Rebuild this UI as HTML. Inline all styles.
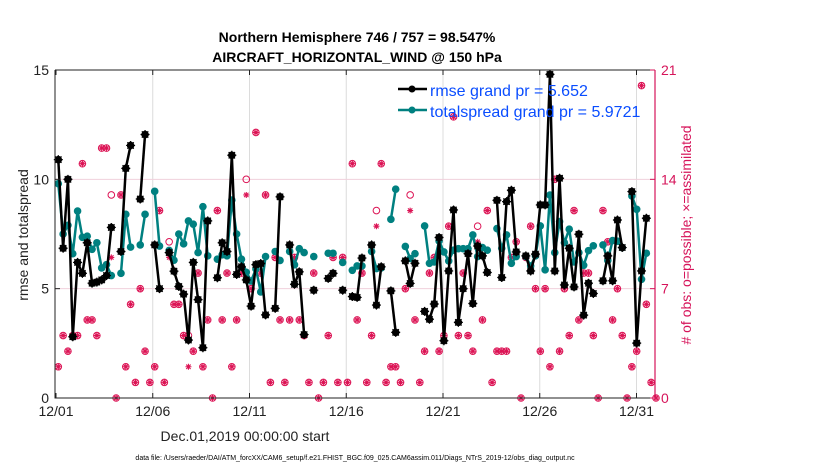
<!DOCTYPE html>
<html><head><meta charset="utf-8">
<style>
body{margin:0;background:#fff;width:830px;height:470px;overflow:hidden}
svg{display:block;font-family:"Liberation Sans",Arial,sans-serif}
</style></head>
<body>
<svg id="chart" width="830" height="470" viewBox="0 0 830 470">
<text x="357" y="42" text-anchor="middle" font-size="14" font-weight="bold">Northern Hemisphere 746 / 757 = 98.547%</text>
<text x="357" y="62" text-anchor="middle" font-size="14" font-weight="bold">AIRCRAFT_HORIZONTAL_WIND @ 150 hPa</text>
<g id="grid"></g>
<g id="obs"></g>
<g id="spread"></g>
<g id="rmse"></g>
<g id="axes"></g>
<g>
 <g>
  <line x1="398" y1="89" x2="427" y2="89" stroke="#000" stroke-width="2.5"/>
  <circle cx="412" cy="89" r="3.5" fill="#000"/>
  <text x="430" y="96" font-size="16" fill="#0a4dff">rmse grand pr = 5.652</text>
 </g>
 <g>
  <line x1="398" y1="110" x2="427" y2="110" stroke="#008080" stroke-width="2.5"/>
  <circle cx="412" cy="110" r="3.5" fill="#008080"/>
  <text x="430" y="117" font-size="16" fill="#0a4dff">totalspread grand pr = 5.9721</text>
 </g>
</g>
<text x="245" y="441" text-anchor="middle" font-size="14" fill="#222">Dec.01,2019 00:00:00 start</text>
<text transform="translate(28,235) rotate(-90)" text-anchor="middle" font-size="14" fill="#222">rmse and totalspread</text>
<text transform="translate(691,235) rotate(-90)" text-anchor="middle" font-size="14" fill="#d6145a"># of obs: o=possible; ×=assimilated</text>
<text x="355" y="460" text-anchor="middle" font-size="7" fill="#000">data file: /Users/raeder/DAI/ATM_forcXX/CAM6_setup/f.e21.FHIST_BGC.f09_025.CAM6assim.011/Diags_NTrS_2019-12/obs_diag_output.nc</text>
</svg>
<script>
const xTickLabels=["12/01","12/06","12/11","12/16","12/21","12/26","12/31"];
const xTickDays=[0,5,10,15,20,25,30];
const yLeftTicks=[0,5,10,15];
const yRightTicks=[0,7,14,21];
const rmse=[10.9,6.85,10.0,2.8,6.2,5.7,7.1,5.25,5.3,5.4,5.6,7.8,null,6.7,10.5,11.55,null,9.1,12.05,null,7.0,5.0,null,6.65,5.8,5.1,4.75,2.65,6.2,4.5,2.3,8.1,null,5.5,7.1,6.7,11.1,5.65,6.0,5.4,4.2,6.1,6.15,3.8,null,4.1,9.2,null,7.0,5.2,5.77,2.9,null,4.93,null,null,5.47,5.7,null,4.93,null,4.64,4.6,6.4,null,7.0,4.25,6.0,null,4.9,3.0,null,6.27,5.24,6.16,null,3.96,3.6,4.3,7.34,2.62,5.81,8.6,3.46,5.0,6.6,4.32,6.95,6.5,5.74,null,9.04,5.51,8.98,9.5,6.68,null,6.5,5.81,6.58,8.83,8.83,14.8,5.81,10.05,5.17,6.85,5.08,7.49,3.79,5.25,4.78,null,5.36,6.5,5.36,8.14,6.88,null,9.44,2.51,5.81,8.22,null,null];
const spread=[9.8,7.5,7.9,6.6,8.55,7.35,7.4,6.8,7.1,5.95,6.1,5.6,null,5.7,8.4,6.9,null,7.0,8.4,null,9.45,6.95,null,6.75,6.3,7.5,7.05,8.1,7.95,6.65,8.75,6.5,null,6.35,6.55,6.5,9.05,7.5,6.35,5.75,5.35,5.9,4.85,6.47,null,6.7,6.29,null,6.7,6.09,6.83,6.65,null,6.47,null,null,6.62,6.62,null,6.2,null,5.84,6.04,6.04,null,6.7,5.92,5.95,null,8.17,9.55,null,6.93,6.38,6.6,null,7.87,6.16,6.22,7.18,6.68,6.27,6.76,6.83,6.83,6.83,7.46,6.47,6.88,6.76,null,7.75,6.85,7.46,6.16,6.47,null,6.47,6.04,6.5,7.87,5.86,9.28,6.65,8.07,7.1,7.72,6.22,6.65,6.07,6.74,6.96,null,7.0,6.29,7.2,7.17,6.88,null,9.24,8.63,5.43,6.62,null,null];
const obsPossible=[2,4,3,4,4,15,5,5,4,16,16,13,0,13,2,6,1,7,3,1,2,12,1,10,6,6,4,4,3,8,2,5,0,12,5,8,2,5,8,14,7,17,8,13,1,9,5,1,5,9,5,4,1,8,0,1,4,9,1,9,1,15,5,8,1,4,12,15,1,2,2,1,7,13,5,1,3,8,9,3,4,11,18,4,8,4,3,11,5,12,1,3,3,3,9,10,0,9,11,7,3,7,2,14,3,7,4,12,5,8,8,4,0,12,10,5,7,4,0,2,3,20,6,1,0];
const obsAssim=[2,4,3,4,4,15,5,5,4,16,16,9,0,13,2,6,1,7,3,1,2,12,1,9,6,6,4,2,3,8,2,5,0,12,5,8,2,5,8,13,7,17,8,13,1,9,5,1,5,9,5,4,1,8,0,1,4,9,1,9,1,15,5,8,1,4,11,15,1,2,2,1,7,12,5,1,3,8,9,3,4,11,18,4,8,4,3,10,5,12,1,3,3,3,9,10,0,9,11,7,3,7,2,14,3,7,4,12,5,8,8,4,0,12,10,5,7,4,0,2,3,20,6,1,0];

const NS='http://www.w3.org/2000/svg';
const PL=55,PR=655,PT=70,PB=398;
function xDay(d){return 56+d*19.35;}
function xIdx(i){return 58.3+4.82*i;}
function yL(v){return PB-(v/15)*(PB-PT);}
function yR(v){return PB-(v/21)*(PB-PT);}
function mk(tag,attrs,parent){const e=document.createElementNS(NS,tag);for(const k in attrs)e.setAttribute(k,attrs[k]);parent.appendChild(e);return e;}

const grid=document.getElementById('grid');
xTickDays.forEach((d,k)=>{if(k>0){const l=mk('line',{x1:xDay(d),x2:xDay(d),y1:PT,y2:PB,stroke:'#dcdcdc','stroke-width':1},grid);

}});
[5,10].forEach(v=>{const l=mk('line',{x1:PL,x2:PR,y1:yL(v),y2:yL(v),stroke:'#f0d0dc','stroke-width':1},grid);

});

// obs
const obs=document.getElementById('obs');
const OC='#dc1455';
obsPossible.forEach((v,i)=>{if(v==null)return;const c=mk('circle',{cx:xIdx(i),cy:yR(v),r:3.3,fill:'none',stroke:OC,'stroke-width':1},obs);

});
obsAssim.forEach((v,i)=>{if(v==null)return;const x=xIdx(i),y=yR(v),s=3;
const p=mk('path',{d:`M${x-s} ${y}H${x+s}M${x} ${y-s}V${y+s}M${x-2.2} ${y-2.2}L${x+2.2} ${y+2.2}M${x-2.2} ${y+2.2}L${x+2.2} ${y-2.2}`,stroke:OC,'stroke-width':1.1,fill:'none'},obs);

});

function drawSeries(arr,g,color,name,star){
 let seg=[];
 const flush=()=>{if(seg.length>1){const pl=mk('polyline',{points:seg.join(' '),fill:'none',stroke:color,'stroke-width':2.5,'stroke-linejoin':'round'},g);
 
 }seg=[];};
 arr.forEach((v,i)=>{if(v==null){flush();return;}seg.push(xIdx(i)+','+yL(v));});flush();
 arr.forEach((v,i)=>{if(v==null)return;const x=xIdx(i),y=yL(v);
  const c=mk('circle',{cx:x,cy:y,r:3.8,fill:color},g);
  
  
  if(star){mk('path',{d:`M${x-4.5} ${y}H${x+4.5}M${x} ${y-4.5}V${y+4.5}M${x-3.2} ${y-3.2}L${x+3.2} ${y+3.2}M${x-3.2} ${y+3.2}L${x+3.2} ${y-3.2}`,stroke:color,'stroke-width':1.2},g);}
 });
}
drawSeries(spread,document.getElementById('spread'),'#008080','totalspread',false);
drawSeries(rmse,document.getElementById('rmse'),'#000','rmse',true);

// axes
const ax=document.getElementById('axes');
mk('path',{d:`M${PL} ${PT}V${PB}H${PR}`,stroke:'#222','stroke-width':1,fill:'none'},ax);
mk('line',{x1:PL,x2:PR,y1:PT,y2:PT,stroke:'#222','stroke-width':1},ax);
mk('line',{x1:PR,x2:PR,y1:PT,y2:PB,stroke:'#d6145a','stroke-width':1.2},ax);
xTickDays.forEach((d,k)=>{const x=xDay(d);
 mk('line',{x1:x,x2:x,y1:PB,y2:PB-5,stroke:'#222'},ax);
 mk('line',{x1:x,x2:x,y1:PT,y2:PT+5,stroke:'#222'},ax);
 const t=mk('text',{x:x,y:PB+18,'text-anchor':'middle','font-size':14,fill:'#222'},ax);t.textContent=xTickLabels[k];
 
 });
yLeftTicks.forEach(v=>{const y=yL(v);
 mk('line',{x1:PL,x2:PL+5,y1:y,y2:y,stroke:'#222'},ax);
 const t=mk('text',{x:PL-6,y:y+5,'text-anchor':'end','font-size':14,fill:'#222'},ax);t.textContent=v;
 
 });
yRightTicks.forEach(v=>{const y=yR(v);
 mk('line',{x1:PR-5,x2:PR,y1:y,y2:y,stroke:'#d6145a'},ax);
 const t=mk('text',{x:PR+6,y:y+5,'font-size':14,fill:'#d6145a'},ax);t.textContent=v;
 
 });
</script>
</body></html>
